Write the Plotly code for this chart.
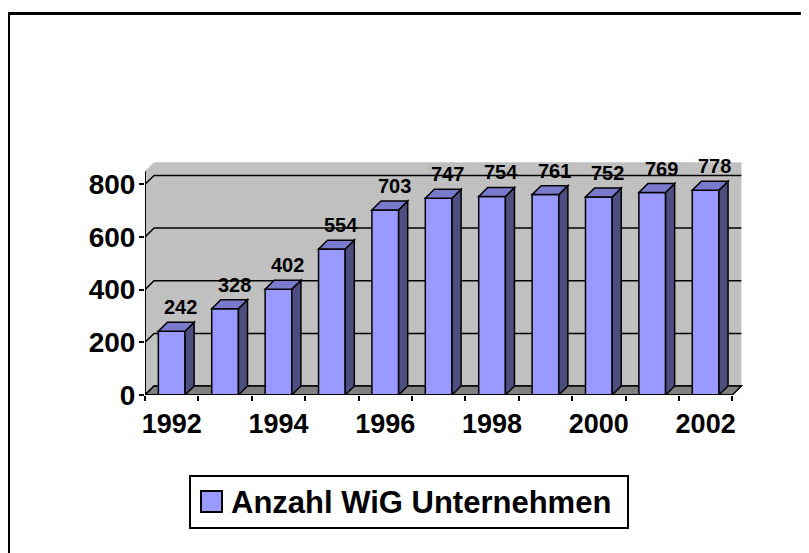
import plotly.graph_objects as go

# ---- data ----
years = ["1992", "1993", "1994", "1995", "1996", "1997", "1998", "1999", "2000", "2001", "2002"]
values = [242, 328, 402, 554, 703, 747, 754, 761, 752, 769, 778]
y_ticks = [0, 200, 400, 600, 800]
series_name = "Anzahl WiG Unternehmen"

# ---- style ----
FRONT = "#9999FF"
TOP = "#7A7ACC"
SIDE = "#4D4D80"
WALL = "#C0C0C0"
FLOOR = "#808080"
FONT = "Liberation Sans, Arial, sans-serif"

PAGE = 8  # default page margin around the figure
FIG_W, FIG_H = 801, 545
ML, MR, MT, MB = 137, 66, 150, 158
PW = FIG_W - ML - MR
PH = FIG_H - MT - MB

n = len(years)
xs = list(range(n))
X_RANGE = [-0.5, n - 0.5 + 0.2]
Y_RANGE = [0, 900]
DX = 0.17      # depth offset in category units
DY = 34        # depth offset in value units
WALL_TOP = 850
BAR_W = 0.5


def px_x(p):
    return (p - PAGE - ML) / PW


def px_y(p):
    return (FIG_H - MB - (p - PAGE)) / PH


fig = go.Figure()
fig.add_trace(go.Bar(
    x=xs, y=values, width=BAR_W, name=series_name,
    marker=dict(color=FRONT, line=dict(color="black", width=1.5)),
    showlegend=False, hoverinfo="skip",
))

shapes = []
xl = -0.5
xr = n - 0.5
# side wall
shapes.append(dict(type="path", xref="x", yref="y", layer="below",
                   path=f"M{xl},0 L{xl},{WALL_TOP} L{xl+DX},{WALL_TOP+DY} L{xl+DX},{DY} Z",
                   fillcolor=WALL, line=dict(width=0)))
# back wall
shapes.append(dict(type="rect", xref="x", yref="y", layer="below",
                   x0=xl + DX, x1=xr + DX, y0=DY, y1=WALL_TOP + DY,
                   fillcolor=WALL, line=dict(width=0)))
# gridlines on walls
for v in y_ticks:
    shapes.append(dict(type="path", xref="x", yref="y", layer="below",
                       path=f"M{xl},{v} L{xl+DX},{v+DY} L{xr+DX},{v+DY}",
                       line=dict(color="black", width=1.5)))
# floor
shapes.append(dict(type="path", xref="x", yref="y", layer="below",
                   path=f"M{xl},0 L{xr},0 L{xr+DX},{DY} L{xl+DX},{DY} Z",
                   fillcolor=FLOOR, line=dict(color="black", width=1.5)))
# axis lines
shapes.append(dict(type="line", xref="x", yref="y", layer="above",
                   x0=xl, x1=xl, y0=0, y1=WALL_TOP, line=dict(color="black", width=2)))
shapes.append(dict(type="line", xref="x", yref="y", layer="above",
                   x0=xl, x1=xr, y0=0, y1=0, line=dict(color="black", width=2)))

# 3D faces of bars
annotations = []
for i, v in zip(xs, values):
    x0 = i - BAR_W / 2
    x1 = i + BAR_W / 2
    shapes.append(dict(type="path", xref="x", yref="y", layer="above",
                       path=f"M{x1},0 L{x1},{v} L{x1+DX},{v+DY} L{x1+DX},{DY} Z",
                       fillcolor=SIDE, line=dict(color="black", width=1.5)))
    shapes.append(dict(type="path", xref="x", yref="y", layer="above",
                       path=f"M{x0},{v} L{x1},{v} L{x1+DX},{v+DY} L{x0+DX},{v+DY} Z",
                       fillcolor=TOP, line=dict(color="black", width=1.5)))
    annotations.append(dict(x=i + DX, y=v + DY, xref="x", yref="y", text=str(v),
                            showarrow=False, yshift=15, xanchor="center", yanchor="middle",
                            font=dict(family=FONT, size=20, color="black", weight="bold")))

# outer chart frame
shapes.append(dict(type="path", xref="paper", yref="paper", layer="above",
                   path=f"M{px_x(8.5)},{px_y(600)} L{px_x(8.5)},{px_y(13.5)} L{px_x(860)},{px_y(13.5)}",
                   line=dict(color="black", width=3)))

# legend (box, swatch, label)
shapes.append(dict(type="rect", xref="paper", yref="paper", layer="above",
                   x0=px_x(190), x1=px_x(628), y0=px_y(528), y1=px_y(476),
                   fillcolor="white", line=dict(color="black", width=2)))
shapes.append(dict(type="rect", xref="paper", yref="paper", layer="above",
                   x0=px_x(201), x1=px_x(222), y0=px_y(512), y1=px_y(491),
                   fillcolor=FRONT, line=dict(color="black", width=2)))
annotations.append(dict(x=px_x(229), y=px_y(502), xref="paper", yref="paper",
                        text=series_name, showarrow=False, xanchor="left", yanchor="middle",
                        font=dict(family=FONT, size=31, color="black", weight="bold")))

fig.update_layout(
    width=FIG_W, height=FIG_H,
    margin=dict(l=ML, r=MR, t=MT, b=MB, pad=0),
    paper_bgcolor="white", plot_bgcolor="white",
    showlegend=False,
    shapes=shapes,
    annotations=annotations,
    xaxis=dict(
        range=X_RANGE, tickmode="array", tickvals=xs[::2], ticktext=years[::2],
        ticks="outside", ticklen=5, tickcolor="rgba(0,0,0,0)",
        showline=False, showgrid=False, zeroline=False,
        tickfont=dict(family=FONT, size=27, color="black", weight="bold"),
        minor=dict(tickmode="array", tickvals=[i - 0.5 for i in range(n + 1)],
                   ticks="outside", ticklen=5, tickwidth=2, tickcolor="black", showgrid=False),
    ),
    yaxis=dict(
        range=Y_RANGE, tickmode="array", tickvals=y_ticks,
        ticks="outside", ticklen=5, tickwidth=2, tickcolor="black",
        showline=False, showgrid=False, zeroline=False,
        ticklabelstandoff=-2,
        tickfont=dict(family=FONT, size=28, color="black", weight="bold"),
    ),
)

fig.write_html("out.html")
